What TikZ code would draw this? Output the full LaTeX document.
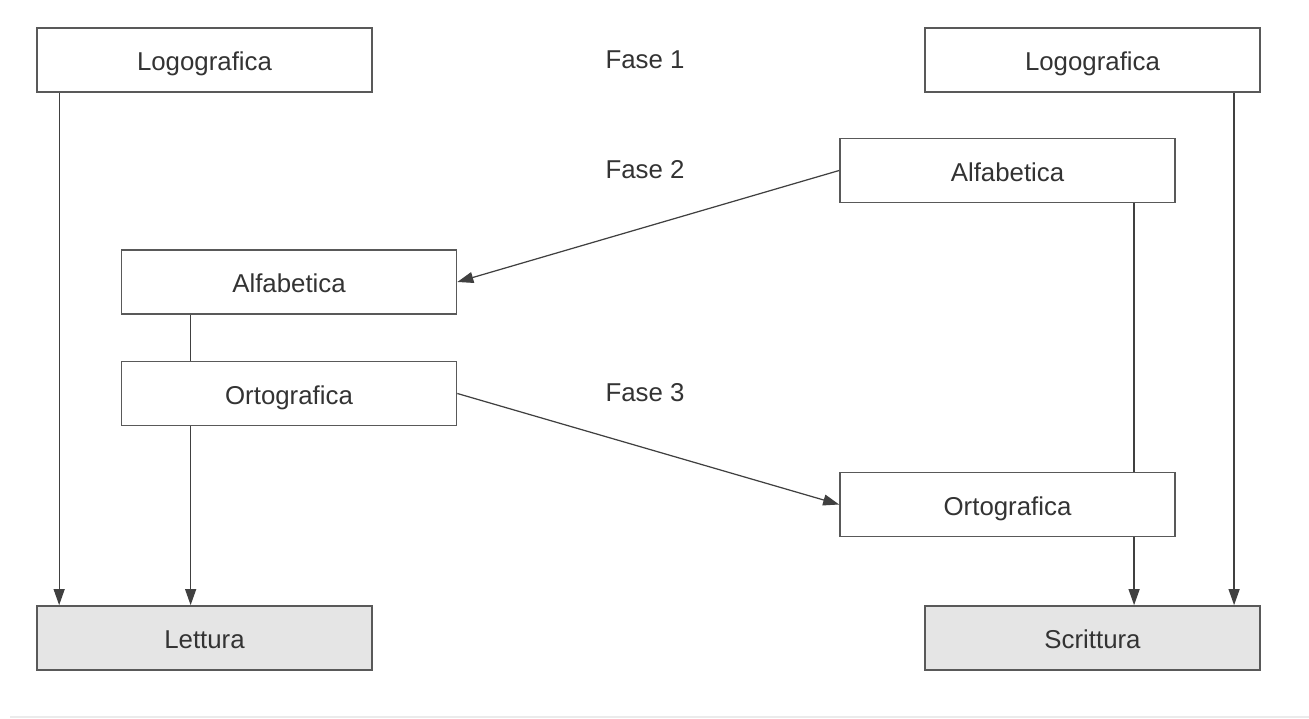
\documentclass[tikz,border=0pt]{standalone}
\usepackage{fontspec}
\setmainfont{Liberation Sans}
\usetikzlibrary{arrows.meta}

\begin{document}
\begin{tikzpicture}[x=0.02cm,y=-0.02cm,
    fase/.style={draw=black!65, line width=1pt, minimum width=6.7cm, minimum height=1.28cm,
      inner sep=0pt, text height=16pt, text depth=4pt,
      font=\fontsize{14.7}{17}\selectfont, text=black!80},
    esito/.style={fase, fill=black!10},
    etichetta/.style={font=\fontsize{14.7}{17}\selectfont, text=black!80},
    freccia/.style={draw=black!75, line width=0.7pt, -{Triangle[length=0.32cm,width=0.22cm]}},
    linea/.style={draw=black!75, line width=0.7pt}]
  \useasboundingbox (0,0) rectangle (1309,719);
  \draw[black!8, line width=0.6pt] (10,717) -- (1309,717);
  % colonna lettura
  \node[fase] (logoL) at (204.5,60) {Logografica};
  \node[fase] (alfaL) at (289,282) {Alfabetica};
  \node[fase] (ortoL) at (289,393.5) {Ortografica};
  \node[esito] (lettura) at (204.5,638) {Lettura};
  % colonna scrittura
  \node[fase] (logoR) at (1092.5,60) {Logografica};
  \node[fase] (alfaR) at (1007.5,170.5) {Alfabetica};
  \node[fase] (ortoR) at (1007.5,504.5) {Ortografica};
  \node[esito] (scrittura) at (1092.5,638) {Scrittura};
  % fasi
  \node[etichetta] (f1) at (645,60) {Fase 1};
  \node[etichetta] (f2) at (645,170) {Fase 2};
  \node[etichetta] (f3) at (645,393) {Fase 3};
  % connessioni
  \draw[freccia] ([xshift=0.46cm]logoL.south west) -- ([xshift=0.46cm]lettura.north west);
  \draw[linea] ([xshift=1.4cm]alfaL.south west) -- ([xshift=1.4cm]ortoL.north west);
  \draw[freccia] ([xshift=1.4cm]ortoL.south west) -- ([xshift=1.4cm]ortoL.south west |- lettura.north);
  \draw[freccia] (alfaR.west) -- (alfaL.east);
  \draw[freccia] (ortoL.east) -- (ortoR.west);
  \draw[linea] ([xshift=5.9cm]alfaR.south west) -- ([xshift=5.9cm]ortoR.north west);
  \draw[freccia] ([xshift=5.9cm]ortoR.south west) -- ([xshift=5.9cm]ortoR.south west |- scrittura.north);
  \draw[freccia] ([xshift=6.2cm]logoR.south west) -- ([xshift=6.2cm]logoR.south west |- scrittura.north);
\end{tikzpicture}
\end{document}
